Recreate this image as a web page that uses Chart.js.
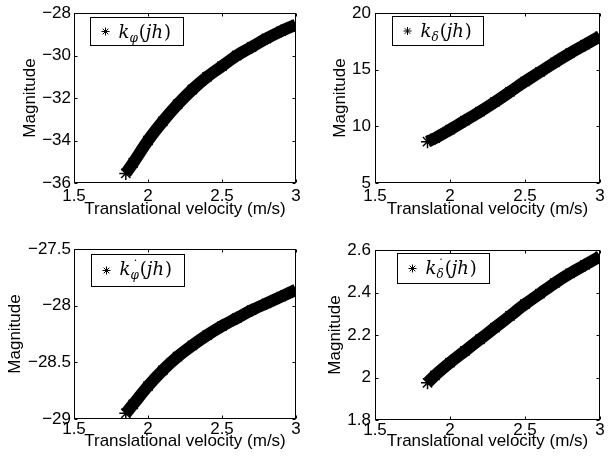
<!DOCTYPE html>
<html>
<head>
<meta charset="utf-8">
<script src="https://cdn.jsdelivr.net/npm/chart.js@4"></script>
<style>
  body { margin: 0; background: #fff; width: 608px; height: 461px; position: relative; overflow: hidden; }
  canvas { position: absolute; }
</style>
</head>
<body>
<canvas id="c1" width="304" height="230" style="left:0;top:0"></canvas>
<canvas id="c2" width="304" height="230" style="left:304px;top:0"></canvas>
<canvas id="c3" width="304" height="231" style="left:0;top:230px"></canvas>
<canvas id="c4" width="304" height="231" style="left:304px;top:230px"></canvas>
<script>
// translational velocity (m/s) and the four gains
const velocity  = [1.85, 1.9, 2.0, 2.1, 2.2, 2.3, 2.4, 2.5, 2.6, 2.7, 2.8, 2.9, 3.0];
const kPhi      = [-35.55, -35.05, -34.0, -33.1, -32.3, -31.6, -31.0, -30.5, -30.0, -29.6, -29.2, -28.85, -28.55];
const kDelta    = [8.65, 8.95, 9.7, 10.5, 11.3, 12.15, 13.05, 13.95, 14.8, 15.65, 16.45, 17.2, 17.95];
const kPhiDot   = [-28.95, -28.87, -28.71, -28.57, -28.45, -28.35, -28.26, -28.18, -28.11, -28.04, -27.98, -27.92, -27.86];
const kDeltaDot = [1.975, 2.01, 2.07, 2.125, 2.18, 2.235, 2.29, 2.345, 2.395, 2.445, 2.49, 2.53, 2.57];

// tick labels
const xTicks         = [1.5, 2, 2.5, 3];
const kPhiTicks      = [-36, -34, -32, -30, -28];
const kDeltaTicks    = [5, 10, 15, 20];
const kPhiDotTicks   = [-29, -28.5, -28, -27.5];
const kDeltaDotTicks = [1.8, 2, 2.2, 2.4, 2.6];

const SANS = 'Liberation Sans';
const SERIF = 'DejaVu Serif';

function fmt(v) {
    return (Math.round(v * 100) / 100).toString().replace('-', '\u2212');
}

// box round the axes, inward ticks on all four sides, and the legend
const boxPlugin = {
    id: 'matBox',
    afterDraw(chart, args, opts) {
        const ctx = chart.ctx;
        const a = chart.chartArea;
        const sx = chart.scales.x, sy = chart.scales.y;
        ctx.save();
        ctx.strokeStyle = '#000';
        ctx.lineWidth = 1;
        const L = Math.round(a.left) + 0.5, R = Math.round(a.right) - 0.5;
        const T = Math.round(a.top) + 0.5, B = Math.round(a.bottom) - 0.5;
        ctx.strokeRect(L, T, R - L, B - T);
        ctx.beginPath();
        sx.ticks.forEach(t => {
            const px = Math.round(sx.getPixelForValue(t.value)) + 0.5;
            ctx.moveTo(px, B); ctx.lineTo(px, B - 3);
            ctx.moveTo(px, T); ctx.lineTo(px, T + 3);
        });
        sy.ticks.forEach(t => {
            const py = Math.round(sy.getPixelForValue(t.value)) + 0.5;
            ctx.moveTo(L, py); ctx.lineTo(L + 3, py);
            ctx.moveTo(R, py); ctx.lineTo(R - 3, py);
        });
        ctx.stroke();

        // legend box
        const lg = opts.legend;
        const bx = Math.round(a.left + lg.dx) + 0.5, by = Math.round(a.top + lg.dy) + 0.5;
        ctx.fillStyle = '#fff';
        ctx.fillRect(bx, by, lg.w, lg.h);
        ctx.strokeRect(bx, by, lg.w, lg.h);
        // star marker
        const cx = bx + 15, cy = by + lg.h / 2, r = 4;
        ctx.beginPath();
        for (let k = 0; k < 4; k++) {
            const ang = k * Math.PI / 4;
            ctx.moveTo(cx - r * Math.cos(ang), cy - r * Math.sin(ang));
            ctx.lineTo(cx + r * Math.cos(ang), cy + r * Math.sin(ang));
        }
        ctx.stroke();
        // k_sub(jh)
        ctx.fillStyle = '#000';
        ctx.textBaseline = 'alphabetic';
        ctx.textAlign = 'left';
        let x = bx + 28;
        const base = by + 20;
        ctx.font = 'italic 18px "' + SERIF + '"';
        ctx.fillText('k', x, base);
        x += ctx.measureText('k').width;
        ctx.font = 'italic 12px "' + SERIF + '"';
        ctx.fillText(lg.sub, x, base + 4);
        if (lg.dot) {
            const w = ctx.measureText(lg.sub).width;
            ctx.textAlign = 'center';
            ctx.font = '12px "' + SERIF + '"';
            ctx.fillText('\u02D9', x + w / 2 + 1, base - 5);
            ctx.textAlign = 'left';
            ctx.font = 'italic 12px "' + SERIF + '"';
        }
        x += ctx.measureText(lg.sub).width + 1;
        ctx.font = '18px "' + SERIF + '"';
        ctx.fillText('(', x, base);
        x += ctx.measureText('(').width;
        ctx.font = 'italic 18px "' + SERIF + '"';
        ctx.fillText('jh', x, base);
        x += ctx.measureText('jh').width + 1;
        ctx.font = '18px "' + SERIF + '"';
        ctx.fillText(')', x, base);
        ctx.restore();
    }
};

function makePanel(id, values, yTicks, g) {
    const canvas = document.getElementById(id);
    const W = canvas.width, H = canvas.height;
    const font = { family: SANS, size: 17 };
    const lineH = 17 * 1.2;
    const padLeft = g.yTitleX - lineH / 2;
    const padBottom = H - (g.xTitleY + lineH / 2);
    new Chart(canvas, {
        type: 'line',
        data: {
            datasets: [{
                data: velocity.map((v, i) => ({ x: v, y: values[i] })),
                borderColor: '#000',
                backgroundColor: '#000',
                borderWidth: 12,
                tension: 0.4,
                cubicInterpolationMode: 'monotone',
                pointStyle: 'star',
                pointRadius: 6.5,
                pointBorderWidth: 1.5,
                pointBorderColor: '#000',
                fill: false
            }]
        },
        options: {
            responsive: false,
            animation: false,
            events: [],
            layout: { padding: { left: padLeft, top: g.top, right: W - g.right, bottom: padBottom } },
            plugins: {
                legend: { display: false },
                tooltip: { enabled: false },
                matBox: { legend: g.legend }
            },
            scales: {
                x: {
                    type: 'linear',
                    min: xTicks[0],
                    max: xTicks[xTicks.length - 1],
                    afterBuildTicks: s => { s.ticks = xTicks.map(v => ({ value: v })); },
                    afterFit: s => { s.height = g.xTitleY + lineH / 2 - g.bottom; s.paddingLeft = 0; s.paddingRight = 0; },
                    ticks: { font: font, color: '#000', padding: g.xTickPad, maxRotation: 0, autoSkip: false, callback: v => fmt(v) },
                    grid: { display: false, drawTicks: false },
                    border: { display: false },
                    title: { display: true, text: 'Translational velocity (m/s)', font: font, color: '#000', padding: 0 }
                },
                y: {
                    type: 'linear',
                    min: yTicks[0],
                    max: yTicks[yTicks.length - 1],
                    afterBuildTicks: s => { s.ticks = yTicks.map(v => ({ value: v })); },
                    afterFit: s => { s.width = g.left - padLeft; s.paddingTop = 0; s.paddingBottom = 0; },
                    ticks: { font: font, color: '#000', padding: g.yTickPad, autoSkip: false, callback: v => fmt(v) },
                    grid: { display: false, drawTicks: false },
                    border: { display: false },
                    title: { display: true, text: 'Magnitude', font: font, color: '#000', padding: 0 }
                }
            }
        },
        plugins: [boxPlugin]
    });
}

makePanel('c1', kPhi, kPhiTicks, {
    left: 74, top: 13, right: 302, bottom: 183, yTitleX: 30, xTitleY: 209, xTickPad: 3, yTickPad: 3,
    legend: { dx: 16, dy: 4, w: 93, h: 28, sub: '\u03C6', dot: false }
});
makePanel('c2', kDelta, kDeltaTicks, {
    left: 71, top: 13, right: 298, bottom: 183, yTitleX: 36, xTitleY: 209, xTickPad: 3, yTickPad: 4,
    legend: { dx: 17, dy: 3, w: 91, h: 29, sub: '\u03B4', dot: false }
});
makePanel('c3', kPhiDot, kPhiDotTicks, {
    left: 74, top: 19, right: 302, bottom: 189, yTitleX: 15, xTitleY: 211, xTickPad: 0, yTickPad: 3,
    legend: { dx: 17, dy: 5, w: 93, h: 32, sub: '\u03C6', dot: true }
});
makePanel('c4', kDeltaDot, kDeltaDotTicks, {
    left: 71, top: 20, right: 298, bottom: 190, yTitleX: 31, xTitleY: 211, xTickPad: 0, yTickPad: 4,
    legend: { dx: 22, dy: 3, w: 92, h: 30, sub: '\u03B4', dot: true }
});
</script>
</body>
</html>
